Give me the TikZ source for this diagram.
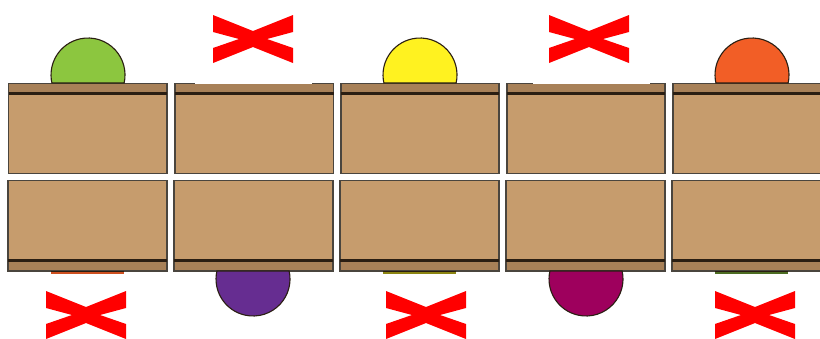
\documentclass[tikz,border=0pt]{standalone}
\definecolor{tanbody}{HTML}{C69C6D}
\definecolor{tanband}{HTML}{A88158}
\definecolor{darkline}{HTML}{2A1E12}
\definecolor{edgeline}{HTML}{4A453E}
\definecolor{cgreen}{HTML}{8CC63F}
\definecolor{cyellow}{HTML}{FFF220}
\definecolor{corange}{HTML}{F25E26}
\definecolor{cpurple}{HTML}{662D91}
\definecolor{cmagenta}{HTML}{9E005D}
\definecolor{cred}{HTML}{FF0000}
\tikzset{
  boxbody/.style={fill=tanbody,draw=edgeline,line width=1.2pt},
  bandbody/.style={fill=tanband,draw=edgeline,line width=1.2pt},
  groove/.style={draw=darkline,line width=2.6pt},
  dome/.style={draw=darkline,line width=1.1pt},
  eraser/.style={fill=white,draw=none},
  crossmark/.pic={\fill[cred] (-40,-24) -- (0,-8) -- (40,-24) -- (40,-7) -- (14,0) -- (40,9) -- (40,24) -- (0,8) -- (-40,24) -- (-40,9) -- (-14,0) -- (-40,-7) -- cycle;}
}
\begin{document}
\begin{tikzpicture}[x=1pt,y=-1pt]
\useasboundingbox (0,0) rectangle (820,338);
\clip (0,0) rectangle (820,338);
\fill[white] (0,0) rectangle (820,338);
% top row
\foreach \l/\r in {8.5/167,175/333.5,341/499,507/665,673/824}{
  \path[boxbody] (\l,83.5) rectangle (\r,173.5);
  \path[bandbody] (\l,83.5) rectangle (\r,93);
  \path[groove] (\l,93.5) -- (\r,93.5);
}
% bottom row
\foreach \l/\r in {8/167,174/333,340/499,506/665,672/824}{
  \path[boxbody] (\l,180.5) rectangle (\r,271);
  \path[bandbody] (\l,261) rectangle (\r,271);
  \path[groove] (\l,260.5) -- (\r,260.5);
}
% top domes
\foreach \c/\col in {88/cgreen,420/cyellow,752/corange}{
  \path[dome,fill=\col] (\c-36.1,83) arc[start angle=167.5,end angle=372.5,radius=37] -- cycle;
}
% bottom domes
\foreach \c/\col in {253/cpurple,586/cmagenta}{
  \path[dome,fill=\col] (\c-36.1,271) arc[start angle=192.5,end angle=-12.5,radius=37] -- cycle;
}
% remnants of hidden bottom domes
\fill[darkline] (51,271) rectangle (124,272);
\fill[corange!85!black] (51,272) rectangle (124,274);
\fill[darkline] (383,271) rectangle (456,272);
\fill[cyellow!55!black] (383,272) rectangle (456,273.5);
\fill[darkline] (715,271) rectangle (788,272);
\fill[cgreen!55!black] (715,272) rectangle (788,273.5);
% erased patches along the top band
\fill[eraser] (195,30) rectangle (312,84);
\fill[eraser] (533,30) rectangle (650,84);
% crosses
\foreach \c in {253,589}{ \pic at (\c,39) {crossmark}; }
\foreach \c in {86,426,755}{ \pic at (\c,315) {crossmark}; }
\end{tikzpicture}
\end{document}
